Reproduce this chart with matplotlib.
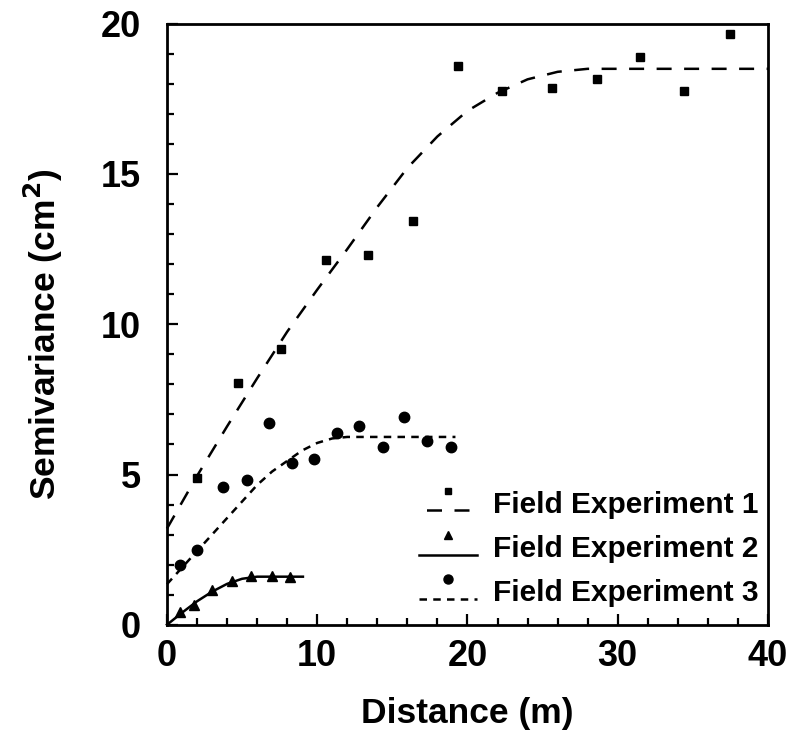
import matplotlib
matplotlib.use("Agg")
import matplotlib.pyplot as plt
from matplotlib.legend_handler import HandlerLine2DCompound
from matplotlib.ticker import MultipleLocator

exp1_x = [2.0, 4.7, 7.6, 10.6, 13.4, 16.4, 19.4, 22.3, 25.6, 28.6, 31.5, 34.4, 37.5]
exp1_y = [4.87, 8.05, 9.18, 12.13, 12.3, 13.45, 18.6, 17.75, 17.85, 18.16, 18.9, 17.75, 19.65]

exp2_x = [0.9, 1.8, 3.0, 4.3, 5.6, 7.0, 8.2]
exp2_y = [0.42, 0.67, 1.17, 1.44, 1.61, 1.61, 1.59]

exp3_x = [0.9, 2.0, 3.7, 5.3, 6.8, 8.3, 9.8, 11.3, 12.8, 14.4, 15.8, 17.3, 18.9]
exp3_y = [1.98, 2.5, 4.6, 4.83, 6.71, 5.39, 5.53, 6.39, 6.63, 5.92, 6.92, 6.1, 5.9]

# fitted model curves
fit1_x = [0, 2, 4, 6, 8, 10, 12, 14, 16, 18, 20, 22, 24, 26, 28, 40]
fit1_y = [3.2, 4.95, 6.6, 8.2, 9.75, 11.15, 12.5, 13.9, 15.2, 16.25, 17.1, 17.7, 18.15, 18.4, 18.5, 18.5]

fit2_x = [0, 1, 2, 3, 4, 5, 6, 9.05]
fit2_y = [0, 0.4, 0.78, 1.1, 1.36, 1.53, 1.6, 1.6]

fit3_x = [0, 1, 2, 3, 4, 5, 6, 7, 8, 9, 10, 11, 12, 19.2]
fit3_y = [1.35, 1.9, 2.45, 3.0, 3.55, 4.1, 4.65, 5.1, 5.45, 5.8, 6.05, 6.2, 6.25, 6.25]

labels = ['Field Experiment 1', 'Field Experiment 2', 'Field Experiment 3']


class MarkerAboveLine(HandlerLine2DCompound):
  # legend entry with the symbol sitting above the line sample
  def create_artists(self, legend, orig_handle, xdescent, ydescent, width, height, fontsize, trans):
    line, marker = super().create_artists(legend, orig_handle, xdescent, ydescent, width, height, fontsize, trans)
    line.set_ydata([v - 0.4 * height for v in line.get_ydata()])
    marker.set_ydata([v + 0.55 * height for v in marker.get_ydata()])
    return [line, marker]


plt.rcParams['font.family'] = ['Liberation Sans', 'DejaVu Sans']
plt.rcParams['font.weight'] = 'bold'
plt.rcParams['axes.labelweight'] = 'bold'
plt.rcParams['mathtext.default'] = 'bf'

fig = plt.figure(figsize=(7.95, 7.42), dpi=100)
ax = fig.add_axes([0.210, 0.158, 0.756, 0.810])

k = dict(color='black', clip_on=False)
ax.plot(fit1_x, fit1_y, lw=1.8, dashes=(6, 5), **k)
ax.plot(fit2_x, fit2_y, lw=1.8, **k)
ax.plot(fit3_x, fit3_y, lw=1.8, dashes=(3, 2.5), **k)
ax.plot(exp1_x, exp1_y, 's', ms=6, mec='black', mfc='black', **k)
ax.plot(exp2_x, exp2_y, '^', ms=7, mec='black', mfc='black', **k)
ax.plot(exp3_x, exp3_y, 'o', ms=7.5, mec='black', mfc='black', **k)

h1, = ax.plot([], [], 's', ls=(8, (6, 5)), lw=1.8, ms=5, color='black')
h2, = ax.plot([], [], '^', ls='-', lw=1.8, ms=6, color='black')
h3, = ax.plot([], [], 'o', ls=(0, (3, 2.5)), lw=1.8, ms=6.5, color='black')
ax.legend([h1, h2, h3], labels, loc='lower right', bbox_to_anchor=(1.0, 0.014),
          frameon=False, fontsize=21.5,
          handlelength=1.95, handletextpad=0.55, labelspacing=0.55,
          borderaxespad=0, borderpad=0.3, numpoints=1,
          handler_map={h1: MarkerAboveLine(), h2: MarkerAboveLine(), h3: MarkerAboveLine()})

ax.set_xlim(0, 40)
ax.set_ylim(0, 20)
ax.xaxis.set_major_locator(MultipleLocator(10))
ax.xaxis.set_minor_locator(MultipleLocator(2))
ax.yaxis.set_major_locator(MultipleLocator(5))
ax.yaxis.set_minor_locator(MultipleLocator(1))
ax.tick_params(which='both', direction='in', width=1.6, labelsize=26, top=False, right=False)
ax.tick_params(which='major', length=8)
ax.tick_params(which='minor', length=5)
ax.tick_params(axis='x', which='major', pad=10)
ax.tick_params(axis='y', which='major', pad=19)
for s in ax.spines.values():
  s.set_linewidth(2)

ax.set_xlabel('Distance (m)', fontsize=25.5)
ax.set_ylabel('Semivariance (cm$^2$)', fontsize=25.5)
ax.xaxis.set_label_coords(0.5, -0.12)
ax.yaxis.set_label_coords(-0.17, 0.484)

fig.savefig('out.png', dpi=100)
